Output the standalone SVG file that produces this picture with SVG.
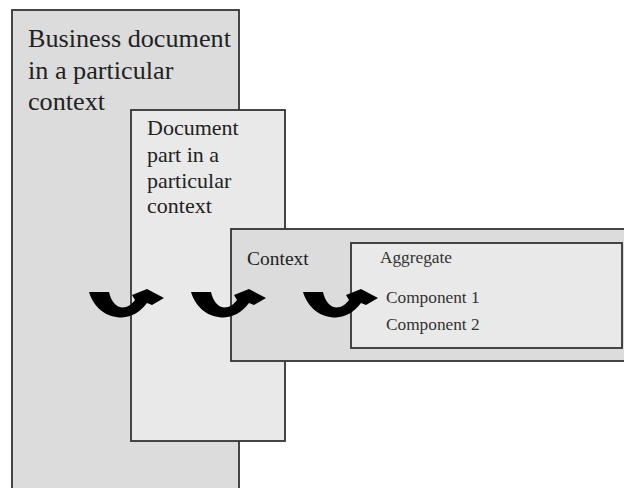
<svg xmlns="http://www.w3.org/2000/svg" xmlns:xlink="http://www.w3.org/1999/xlink" width="624" height="488" viewBox="0 0 624 488">
<style>
.box{stroke:#333;stroke-width:1.8}
.dark{fill:#dcdcdc}
.light{fill:#e9e9e9}
.t{font-family:"Liberation Serif","Times New Roman",serif;fill:#222}
.s{fill:#333}
</style>
<defs>
<path id="arr" d="M0,2 L20,2 C22,11 27,17 33,17.5 C39,17.5 43,14 46,10 L43,5 L58,-1 L75,8 L63,15 L58,13 C51,22 43,27 33,27.5 C17,27.5 5,18 0,2 Z" fill="#000"/>
</defs>
<rect width="624" height="488" fill="#fff"/>
<g id="business-document">
<rect class="box dark" x="12" y="10" width="227" height="490"/>
<text class="t" font-size="26.2"><tspan x="28" y="47">Business document</tspan><tspan x="28" y="79">in a particular</tspan><tspan x="28" y="110">context</tspan></text>
</g>
<g id="document-part">
<rect class="box light" x="131" y="110" width="154" height="331"/>
<text class="t" font-size="22"><tspan x="147" y="135">Document</tspan><tspan x="147" y="162">part in a</tspan><tspan x="147" y="188">particular</tspan><tspan x="147" y="213">context</tspan></text>
</g>
<g id="context">
<rect class="box dark" x="231" y="229" width="400" height="132"/>
<text class="t" font-size="19.5" x="247" y="265">Context</text>
</g>
<g id="aggregate">
<rect class="box light" x="351" y="243" width="271" height="105"/>
<text class="t s" font-size="17.3" x="380" y="263">Aggregate</text>
<text class="t s" font-size="17.3" x="386" y="303">Component 1</text>
<text class="t s" font-size="17.3" x="386" y="330">Component 2</text>
</g>
<g id="connectors">
<use xlink:href="#arr" x="89" y="290"/>
<use xlink:href="#arr" x="191" y="290"/>
<use xlink:href="#arr" x="303" y="290"/>
</g>
</svg>
